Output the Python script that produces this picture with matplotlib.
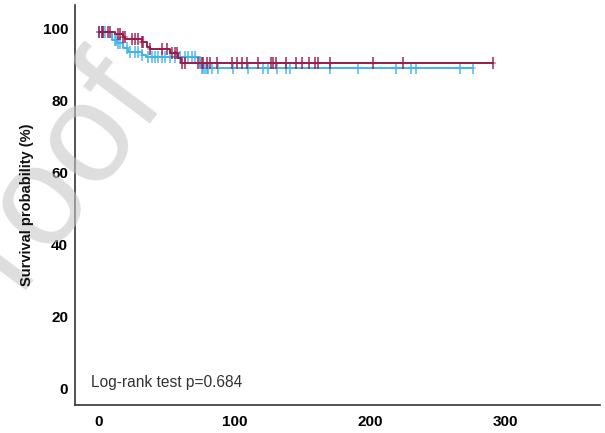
import matplotlib
matplotlib.use("Agg")
import matplotlib.pyplot as plt
import numpy as np

# ---- data ----
# Group A (dark red) Kaplan-Meier steps: times of drops and the survival value after each drop
red_times = [0, 11.8, 18.0, 19.5, 31.5, 35.7, 37.5, 52.5, 58.6, 60.5, 291]
red_surv = [99.1, 98.4, 97.7, 97.0, 96.1, 94.9, 94.2, 93.1, 91.9, 90.3, 90.3]
red_censor = [0.2, 2, 3.2, 6.9, 8.1, 14.3, 15.5, 18, 19.2, 24.1, 26.6, 29.1, 31.5,
              32.8, 37.7, 46.3, 50, 53.7, 56.2, 57.4, 61.1, 63.6, 73.4, 75.9, 77.1,
              79.6, 82, 87, 98, 101.8, 105.5, 109.2, 117.7, 127, 128.6, 130.8, 138.2,
              145.6, 149.8, 155.4, 159.6, 162, 170.7, 202, 224.2, 291]

# Group B (light blue)
blue_times = [0, 9.4, 13.0, 17.7, 21.7, 31.5, 35.0, 74.6, 276]
blue_surv = [99.1, 96.9, 96.0, 94.6, 93.5, 92.6, 92.0, 88.9, 88.9]
blue_censor = [0.2, 2, 3.2, 4.4, 11.7, 12.9, 14.3, 15.5, 20.4, 22.9, 26.6, 29.1, 31.5,
               36.5, 38.9, 41.4, 43.8, 46.3, 48.7, 52.5, 56.2, 59.9, 63.6, 66.1, 68.5,
               71, 75.9, 77.1, 78.3, 79.6, 80.8, 83.2, 88.2, 99.3, 110.4, 121.5, 125.1,
               131.3, 138, 141.2, 170.7, 191.2, 219.3, 230.6, 234.1, 266.8, 276]

x_ticks = [0, 100, 200, 300]
y_ticks = [0, 20, 40, 60, 80, 100]
y_label = "Survival probability (%)"
annot = "Log-rank test p=0.684"
watermark = "Proof"

RED = "#9c1a4c"
BLUE = "#3fb4f2"

plt.rcParams['font.family'] = ['Liberation Sans', 'DejaVu Sans']

fig = plt.figure(figsize=(6.05, 4.33), dpi=100)
ax = fig.add_axes([75/605, 1-405/433, 525/605, 400/433])

def surv_at(times, surv, t):
    idx = np.searchsorted(times, t, side='right') - 1
    idx = max(0, min(idx, len(surv)-1))
    return surv[idx]

for times, surv, cens, col, z in [(blue_times, blue_surv, blue_censor, BLUE, 3),
                                  (red_times, red_surv, red_censor, RED, 4)]:
    ax.step(times, surv, where='post', color=col, lw=1.4, zorder=z)
    cy = [surv_at(times, surv, t) for t in cens]
    ax.plot(cens, cy, linestyle='none', marker='|', markersize=8, mew=1.3,
            color=col, alpha=0.8, zorder=z)
    ax.plot(cens, cy, linestyle='none', marker='_', markersize=5, mew=1.2,
            color=col, alpha=0.5, zorder=z)

ax.set_xlim(-17.7, 370)
ax.set_ylim(-4.7, 106.5)
ax.set_xticks(x_ticks)
ax.set_yticks(y_ticks)
ax.tick_params(length=0, labelsize=11, pad=5)
ax.tick_params(axis='x', pad=7)
for lab in ax.get_xticklabels() + ax.get_yticklabels():
    lab.set_fontweight('bold')
for s in ['top', 'right']:
    ax.spines[s].set_visible(False)
for s in ['left', 'bottom']:
    ax.spines[s].set_color('#333333')
    ax.spines[s].set_linewidth(1.2)

fig.text(27/605, 1-205/433, y_label, rotation=90, ha='center', va='center',
         fontsize=10.5, fontweight='bold', color='#111111', zorder=20)
fig.text(91/605, 1-383/433, annot, ha='left', va='center', fontsize=11.2,
         color='#333333', zorder=20)

# faint watermark (partly outside the figure, as in the reference)
fig.text(80/605, 1-30/433, watermark, rotation=53, ha='right', va='top',
         fontsize=102, color='#c8c8c8', alpha=0.6, zorder=10,
         rotation_mode='anchor')

fig.savefig("out.png", dpi=100, facecolor='white')
